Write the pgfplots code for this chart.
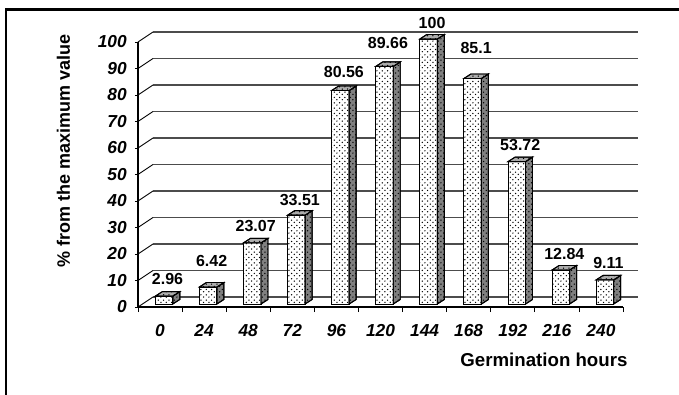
\documentclass[border=0pt]{standalone}
\usepackage{fontspec}
\setmainfont{Liberation Sans}
\usepackage{pgfplots}
\pgfplotsset{compat=1.18}
\usepackage{pgfplotstable}
\usetikzlibrary{patterns}

\pgfdeclarepatternformonly{sparsedots}{\pgfqpoint{-1pt}{-1pt}}{\pgfqpoint{5pt}{5pt}}{\pgfqpoint{4pt}{4pt}}{%
  \pgfpathcircle{\pgfqpoint{0.7pt}{0.7pt}}{0.55pt}%
  \pgfpathcircle{\pgfqpoint{2.7pt}{2.4pt}}{0.55pt}%
  \pgfusepath{fill}}
\pgfdeclareplotmark{empty}{}

\definecolor{sidegray}{gray}{0.5}
\definecolor{topgray}{gray}{0.68}
\definecolor{gridc}{gray}{0.3}

\pgfplotstableread{
x y off
0 2.96 9
1 6.42 15
2 23.07 8.25
3 33.51 7.1
4 80.56 9.75
5 89.66 13.5
6 100 8.25
7 85.1 18.75
8 53.72 8.7
9 12.84 8
10 9.11 8.7
}\datatable

\begin{document}
\begin{tikzpicture}
\useasboundingbox (0,0) rectangle (509.25pt,295.5pt);
\draw[line width=1.9pt] (4.5pt,-5pt) -- (4.5pt,288.4pt) -- (515pt,288.4pt);

% back wall
\begin{axis}[scale only axis, width=363.75pt, height=198.75pt,
  at={(114.75pt,72.75pt)}, anchor=south west,
  xmin=-0.5, xmax=10.5, ymin=0, ymax=100,
  xtick=\empty, ytick={0,10,...,100}, yticklabels={},
  major tick length=0pt, axis line style={draw=none},
  ymajorgrids, grid style={gridc, line width=1.1pt}]
\end{axis}

% bars
\begin{axis}[scale only axis, width=363.75pt, height=198.75pt,
  at={(106.5pt,67.5pt)}, anchor=south west,
  xmin=-0.5, xmax=10.5, ymin=0, ymax=100, hide axis, clip=false,
  /pgf/number format/assume math mode=true]
\addplot[ybar, bar width=13.125pt, bar shift=0pt, draw=black, line width=0.7pt,
  fill=white, postaction={pattern=sparsedots},
  visualization depends on={\thisrow{off} \as \off},
  nodes near coords,
  every node near coord/.append style={font=\bfseries\fontsize{12}{13}\selectfont,
    anchor=base, inner sep=0pt, xshift=2.6pt, yshift=\off pt}]
  table[x=x,y=y]{\datatable};
\addplot[scatter, only marks, mark=empty,
  visualization depends on={\thisrow{y} \as \ry},
  scatter/@pre marker code/.code={%
    \pgfmathsetmacro\hh{\ry*1.9875}%
    \path[fill=sidegray, draw=black, line width=0.7pt, postaction={pattern=sparsedots}]
      (6.5625pt,0pt) -- ++(5.25pt,3.375pt) -- ++(0pt,-\hh pt) -- ++(-5.25pt,-3.375pt) -- cycle;
    \path[fill=topgray, draw=black, line width=0.7pt, postaction={pattern=sparsedots}]
      (-6.5625pt,0pt) -- ++(13.125pt,0pt) -- ++(5.25pt,3.375pt) -- ++(-13.125pt,0pt) -- cycle;
  },
  scatter/@post marker code/.code={}]
  table[x=x,y=y]{\datatable};
\end{axis}

% front axis
\begin{axis}[scale only axis, width=363.75pt, height=198.75pt,
  at={(103.5pt,65.25pt)}, anchor=south west,
  xmin=-0.5, xmax=10.5, ymin=0, ymax=100, clip=false,
  axis x line*=bottom, axis y line*=left,
  axis line style={black, line width=0.8pt},
  xtick={0,...,10}, xticklabels={0,24,48,72,96,120,144,168,192,216,240},
  minor xtick={-0.5,0.5,...,10.5},
  ytick={0,10,...,100},
  tick align=outside, major tick length=2.25pt, minor tick length=3.75pt,
  major x tick style={draw=none},
  tick style={black, line width=0.6pt},
  /pgf/number format/assume math mode=true,
  yticklabel style={font=\bfseries\itshape\fontsize{13}{14}\selectfont, anchor=east, inner sep=0pt, xshift=-6pt},
  xticklabel style={font=\bfseries\itshape\fontsize{13}{14}\selectfont, anchor=north, inner sep=0pt, yshift=-10.5pt},
  xlabel={Germination hours},
  xlabel style={at={(axis description cs:0.837,-0.2264)}, anchor=base, inner sep=0pt,
    font=\bfseries\fontsize{14}{16}\selectfont},
  ylabel={\% from the maximum value},
  ylabel style={at={(axis description cs:-0.1536,0.589)}, anchor=center, inner sep=0pt,
    font=\bfseries\fontsize{13.5}{16}\selectfont}]
\pgfplotsinvokeforeach{0,10,20,30,40,50,60,70,80,90,100}{
  \draw[black, line width=0.7pt] (axis cs:-0.5,#1) -- ++(11.25pt,7.5pt);
}
\end{axis}
\end{tikzpicture}
\end{document}
